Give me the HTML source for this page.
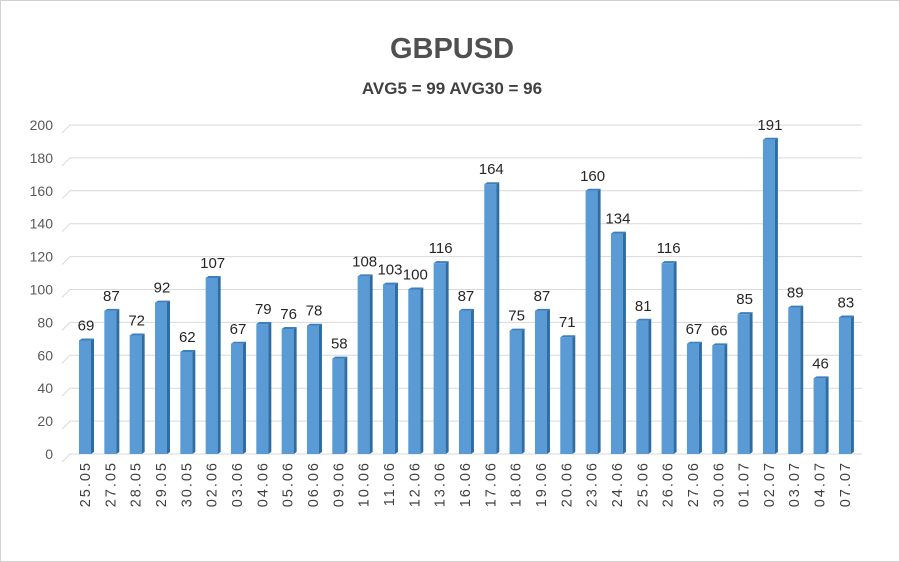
<!DOCTYPE html>
<html><head><meta charset="utf-8"><style>
body{margin:0;background:#fff}
svg{display:block;font-family:"Liberation Sans",sans-serif}
</style></head><body>
<svg id="chart" width="900" height="562" viewBox="0 0 900 562">
<rect x="0.5" y="0.5" width="899" height="561" fill="#fff" stroke="#d0d0d0"/>
<text x="452" y="58" text-anchor="middle" font-size="29" font-weight="bold" fill="#505050">GBPUSD</text>
<text x="452" y="94" text-anchor="middle" font-size="17" font-weight="bold" fill="#404040">AVG5 = 99 AVG30 = 96</text>
<g id="grid"></g><g id="bars"></g><g id="labels"></g>
</svg>
<script>
const categories=["25.05","27.05","28.05","29.05","30.05","02.06","03.06","04.06","05.06","06.06","09.06","10.06","11.06","12.06","13.06","16.06","17.06","18.06","19.06","20.06","23.06","24.06","25.06","26.06","27.06","30.06","01.07","02.07","03.07","04.07","07.07"];
const values=[69,87,72,92,62,107,67,79,76,78,58,108,103,100,116,87,164,75,87,71,160,134,81,116,67,66,85,191,89,46,83];
const yTicks=[0,20,40,60,80,100,120,140,160,180,200];
const NS="http://www.w3.org/2000/svg";
const y0=454,yTop=125,yMax=200;
const y=v=>y0-(v/yMax)*(y0-yTop);
const x=i=>85+i*25.33;
function mk(tag,attrs,parent){const e=document.createElementNS(NS,tag);for(const k in attrs)e.setAttribute(k,attrs[k]);parent.appendChild(e);return e;}
const grid=document.getElementById('grid'),bars=document.getElementById('bars'),labels=document.getElementById('labels');
yTicks.forEach(t=>{
  const l=mk('polyline',{points:`${62},${y(t)+8} ${70},${y(t)} ${862},${y(t)}`,fill:'none',stroke:'#d9d9d9','stroke-width':1},grid);
  
  
  const tx=mk('text',{x:53,y:y(t)+5,'text-anchor':'end','font-size':14,fill:'#595959'},grid);
  tx.textContent=t;
  
  
});
values.forEach((v,i)=>{
  const cx=x(i),top=y(v);
  const g=mk('g',{},bars);
  
  
  mk('rect',{x:cx-6,y:top,width:12,height:y0-top,fill:'#5b9bd5'},g);
  mk('polygon',{points:`${cx+6},${top} ${cx+9},${top-2} ${cx+9},${y0-2} ${cx+6},${y0}`,fill:'#2e6da4'},g);
  mk('polygon',{points:`${cx-6},${top} ${cx-3},${top-2} ${cx+9},${top-2} ${cx+6},${top}`,fill:'#3b7fc0'},g);
  const vt=mk('text',{x:cx+1,y:top-10,'text-anchor':'middle','font-size':15,fill:'#262626'},labels);
  vt.textContent=v;
  
  
  const ct=mk('text',{x:0,y:0,'text-anchor':'end','font-size':14.5,'letter-spacing':2,fill:'#404040',transform:`translate(${cx+5},${461}) rotate(-90)`},labels);
  ct.textContent=categories[i];
  
  
});
</script>
</body></html>
